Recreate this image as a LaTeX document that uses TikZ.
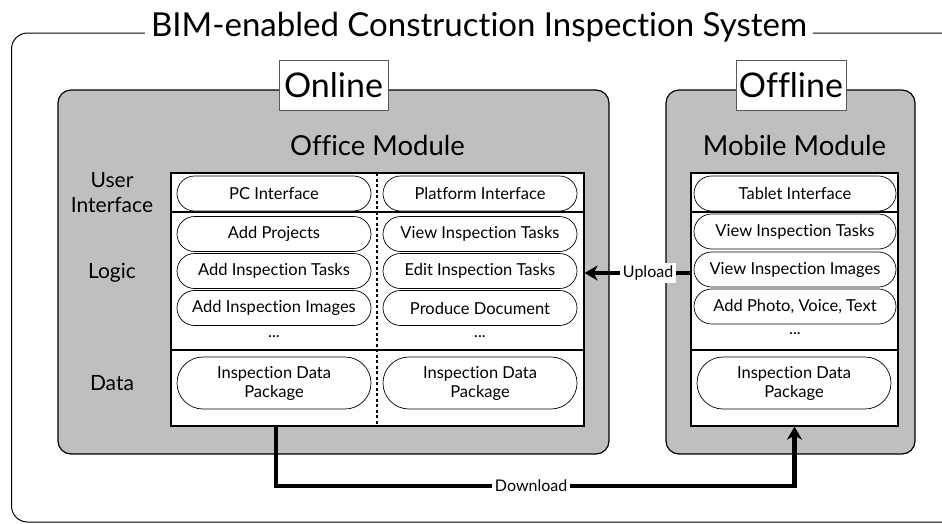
\documentclass[tikz,border=0pt]{standalone}
\usepackage{fontspec}
\setmainfont{Lato}[Ligatures=NoCommon]
\usetikzlibrary{shapes.misc,arrows.meta}
\definecolor{modgray}{RGB}{191,191,191}
\begin{document}
\begin{tikzpicture}[x=1pt,y=-1pt,
  frameline/.style={line width=1pt},
  module/.style={draw=black,fill=modgray,line width=1.2pt,rounded corners=13pt,minimum width=#1,minimum height=364pt,inner sep=0pt},
  tag/.style={draw=black!65,fill=white,line width=0.8pt,minimum height=50pt,minimum width=#1,inner sep=0pt,font=\fontsize{34}{36}\selectfont},
  tblbox/.style={draw=black,fill=white,line width=1.2pt,minimum height=253pt,minimum width=#1,inner sep=0pt},
  pill/.style={draw=black,fill=white,line width=0.7pt,rounded rectangle,minimum width=#1,minimum height=35pt,inner sep=0pt,font=\fontsize{16.5}{19}\selectfont,align=center},
  pill/.default=194pt,
  datapill/.style={pill=#1,minimum height=52pt},
  datapill/.default=194pt,
  layer/.style={font=\fontsize{21}{25}\selectfont,align=center},
  modtitle/.style={font=\fontsize{27.5}{30}\selectfont,anchor=base},
  dots/.style={font=\fontsize{16.5}{19}\selectfont},
  sep/.style={line width=1.2pt},
  flow/.style={line width=4.5pt,-{Stealth[length=13pt,width=15pt,inset=4pt]}},
  lbl/.style={fill=white,inner sep=2.5pt,font=\fontsize{16}{18}\selectfont},
]
\useasboundingbox (0,0) rectangle (942,523);

% outer frame and title
\draw[frameline,rounded corners=16pt] (11.5,33) rectangle (990,522);
\node[fill=white,inner xsep=6pt,inner ysep=1pt,anchor=base,font=\fontsize{33}{35}\selectfont] (title) at (479,36) {BIM-enabled Construction Inspection System};

% modules
\node[module=551pt] (office) at (333.5,272) {};
\node[module=249pt] (mobile) at (790.5,272) {};
\node[tag=109pt] (online) at (333.5,85) {Online};
\node[tag=110pt] (offline) at (791,85) {Offline};
\node[modtitle] (offtitle) at (377.5,155) {Office Module};
\node[modtitle] (mobtitle) at (794.5,155) {Mobile Module};

% layer labels
\node[layer] (lui) at (112,193) {User\\Interface};
\node[layer] (llogic) at (112,273) {Logic};
\node[layer] (ldata) at (112,383) {Data};

% tables
\node[tblbox=413pt] (offtbl) at (377.5,299.5) {};
\node[tblbox=207pt] (mobtbl) at (794.5,299.5) {};
\coordinate (ya) at (0,212);
\coordinate (yb) at (0,350);
\draw[sep] (offtbl.west |- ya) -- (offtbl.east |- ya);
\draw[sep] (offtbl.west |- yb) -- (offtbl.east |- yb);
\draw[sep] (mobtbl.west |- ya) -- (mobtbl.east |- ya);
\draw[sep] (mobtbl.west |- yb) -- (mobtbl.east |- yb);
\coordinate (dtop) at (377,173);
\coordinate (dbot) at (377,426);
\draw[line width=1.3pt,dash pattern=on 3pt off 2.5pt] (dtop) -- (dbot);

% office left column
\node[pill] (pc) at (274,193.5) {PC Interface};
\node[pill] (addproj) at (274,234) {Add Projects};
\node[pill] (addtask) at (274,271) {Add Inspection Tasks};
\node[pill] (addimg) at (274,308) {Add Inspection Images};
\node[dots] (dotsl) at (274,337) {...};
\node[datapill] (dataL) at (274,383) {Inspection Data\\Package};

% office right column
\node[pill] (platform) at (480,193.5) {Platform Interface};
\node[pill] (viewtask) at (480,234) {View Inspection Tasks};
\node[pill] (edittask) at (480,271) {Edit Inspection Tasks};
\node[pill] (produce) at (480,308) {Produce Document};
\node[dots] (dotsr) at (480,337) {...};
\node[datapill] (dataR) at (480,383) {Inspection Data\\Package};

% mobile column
\node[pill=202pt] (tablet) at (795,193.5) {Tablet Interface};
\node[pill=202pt] (mviewtask) at (795,231.5) {View Inspection Tasks};
\node[pill=202pt] (mviewimg) at (795,269.5) {View Inspection Images};
\node[pill=202pt] (maddphoto) at (795,306.5) {Add Photo, Voice, Text};
\node[dots] (dotsm) at (795,334) {...};
\node[datapill] (dataM) at (794,383) {Inspection Data\\Package};

% connectors
\coordinate (uy) at (0,273);
\draw[flow] (mobtbl.west |- uy) -- node[lbl,pos=0.4] (upl) {Upload} (offtbl.east |- uy);
\coordinate (dx) at (276,0);
\coordinate (dturn) at (794.5,486);
\draw[flow] (offtbl.south -| dx) |- node[lbl,pos=0.746] (dnl) {Download} (dturn) -- (mobtbl.south);
\end{tikzpicture}
\end{document}
